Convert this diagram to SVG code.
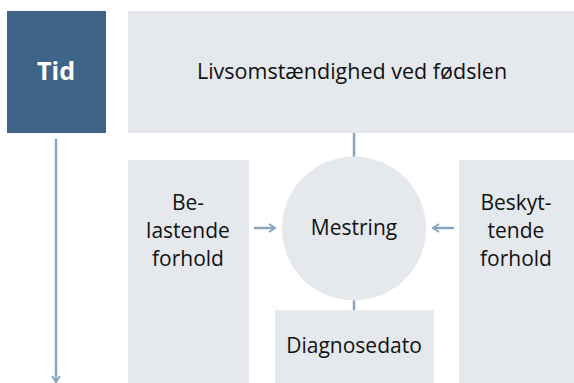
<svg xmlns="http://www.w3.org/2000/svg" width="574" height="383" viewBox="0 0 574 383">
<defs>
<style>
.box{fill:#e5e9ed}
.t{font-family:"Open Sans","Liberation Sans",sans-serif;font-size:21px;fill:#111;text-anchor:middle}
.ln{stroke:#8aa4bd;stroke-width:2.5;fill:none}
</style>
<marker id="ah" markerWidth="10" markerHeight="10" refX="8" refY="5" orient="auto" markerUnits="userSpaceOnUse">
<path d="M2,1 L8,5 L2,9" fill="none" stroke="#8aa4bd" stroke-width="2"/>
</marker>
</defs>
<rect width="574" height="383" fill="#fff"/>
<g id="connectors">
<line class="ln" x1="56" y1="139" x2="56" y2="382" marker-end="url(#ah)"/>
<line class="ln" x1="354" y1="133" x2="354" y2="160"/>
<line class="ln" x1="354" y1="297" x2="354" y2="310"/>
<line class="ln" x1="254" y1="228" x2="275" y2="228" marker-end="url(#ah)"/>
<line class="ln" x1="454" y1="228" x2="433" y2="228" marker-end="url(#ah)"/>
</g>
<g id="tid">
<rect x="7" y="11" width="99" height="122" fill="#3e6587"/>
<text x="56" y="80" style="font-family:'Open Sans','Liberation Sans',sans-serif;font-size:25px;font-weight:bold;fill:#fff;text-anchor:middle">Tid</text>
</g>
<g id="livs">
<rect class="box" x="128" y="11" width="446" height="122"/>
<text class="t" x="352" y="79" style="font-size:21.5px">Livsomstændighed ved fødslen</text>
</g>
<g id="belastende">
<rect class="box" x="128" y="160" width="121" height="223"/>
<text class="t" x="188" y="210">Be-</text>
<text class="t" x="188" y="238">lastende</text>
<text class="t" x="188" y="266">forhold</text>
</g>
<g id="mestring">
<circle class="box" cx="354" cy="228.5" r="72"/>
<text class="t" x="354" y="235">Mestring</text>
</g>
<g id="beskyttende">
<rect class="box" x="459" y="160" width="115" height="223"/>
<text class="t" x="516" y="210">Beskyt-</text>
<text class="t" x="516" y="238">tende</text>
<text class="t" x="516" y="266">forhold</text>
</g>
<g id="diagnosedato">
<rect class="box" x="275" y="310" width="159" height="73"/>
<text class="t" x="354" y="353">Diagnosedato</text>
</g>
</svg>
